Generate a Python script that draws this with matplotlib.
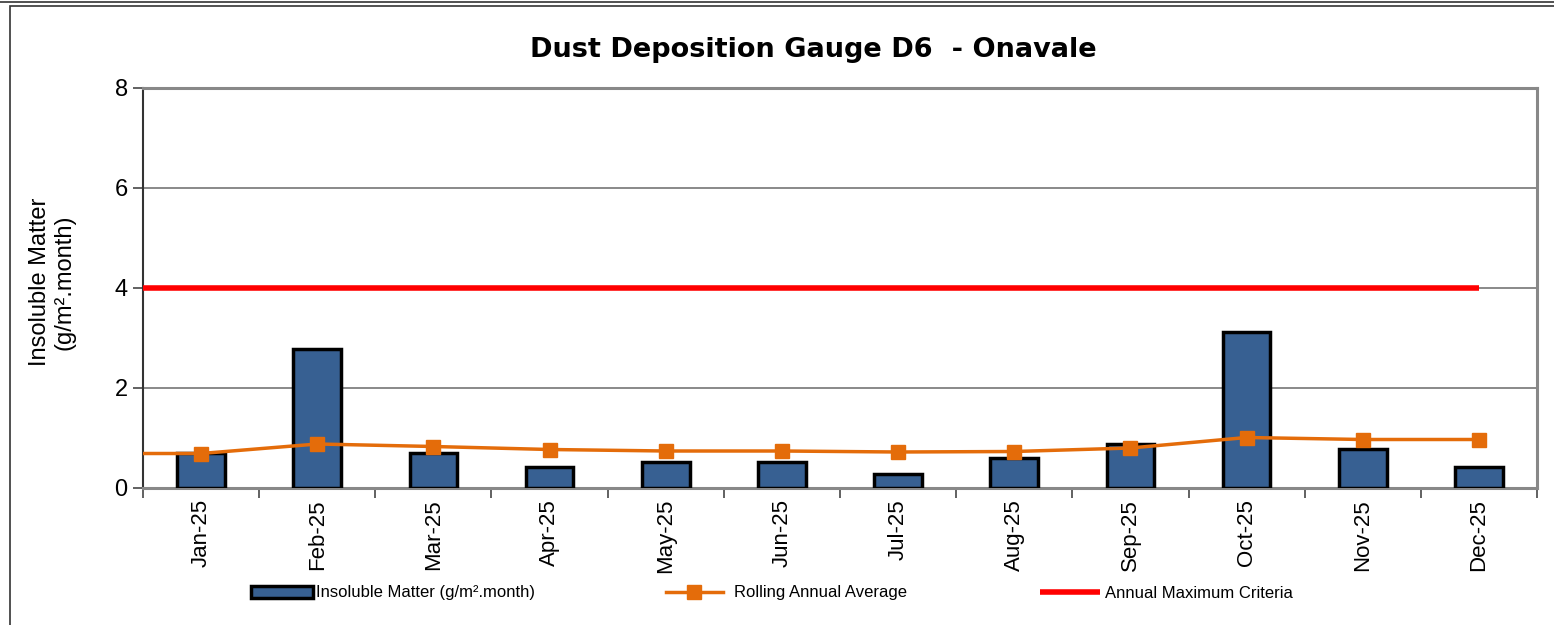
import matplotlib.pyplot as plt
from matplotlib.patches import Rectangle
from matplotlib.lines import Line2D

plt.rcParams['font.family'] = ['Liberation Sans', 'DejaVu Sans']

# data
months = ['Jan-25', 'Feb-25', 'Mar-25', 'Apr-25', 'May-25', 'Jun-25',
          'Jul-25', 'Aug-25', 'Sep-25', 'Oct-25', 'Nov-25', 'Dec-25']
insoluble = [0.71, 2.79, 0.71, 0.42, 0.52, 0.52, 0.28, 0.61, 0.89, 3.12, 0.79, 0.43]
rolling_avg = [0.69, 0.88, 0.83, 0.77, 0.74, 0.74, 0.72, 0.73, 0.80, 1.01, 0.97, 0.97]
criteria = 4

x = list(range(len(months)))

W, H = 1554, 625
fig = plt.figure(figsize=(15.54, 6.25), dpi=100)
ax = fig.add_axes([143/W, 1 - 488/H, (1537-143)/W, 400/H])

# outer frame like the source document
fig.add_artist(Line2D([0, 1], [1 - 1.5/H, 1 - 1.5/H], color='#333333', lw=1.2))
fig.add_artist(Rectangle((10/W, -0.1), 1.2, 1 - 5.5/H + 0.1, fill=False,
                         edgecolor='#333333', lw=1.2))

ax.bar(x, insoluble, width=0.41, color='#376092', edgecolor='black',
       linewidth=2.5, zorder=3, label='Insoluble Matter (g/m².month)')

# rolling average runs in from the left edge of the plot area
ax.plot([-0.5] + x, [rolling_avg[0]] + rolling_avg, color='#E46C0A', lw=2.5,
        marker='s', markersize=10, markevery=list(range(1, 13)), zorder=4,
        label='Rolling Annual Average')
ax.hlines(criteria, -0.5, x[-1], color='#FF0000', lw=4, zorder=4,
          label='Annual Maximum Criteria')

ax.set_xlim(-0.5, 11.5)
ax.set_ylim(0, 8)
ax.set_yticks([0, 2, 4, 6, 8])
ax.yaxis.grid(True, color='#808080', lw=1.3)
ax.set_axisbelow(True)

ax.set_xticks([i + 0.5 for i in range(-1, 12)])
ax.set_xticklabels([])
ax.set_xticks(x, minor=True)
ax.set_xticklabels(months, minor=True, rotation=90, fontsize=16)
ax.tick_params(axis='x', which='major', length=7, width=1.3, color='#555555', direction='out')
ax.tick_params(axis='x', which='minor', length=0, pad=8)
ax.tick_params(axis='y', length=7, width=1.3, color='#555555', labelsize=17, pad=4)

for s in ['top', 'right', 'bottom']:
    ax.spines[s].set_color('#888888')
    ax.spines[s].set_linewidth(2.2)
ax.spines['left'].set_color('#333333')
ax.spines['left'].set_linewidth(1.5)

fig.text(52/W, 1 - 282/H, 'Insoluble Matter\n(g/m².month)', rotation=90,
         ha='center', va='center', fontsize=17, linespacing=1.15)
fig.text(813/W, 1 - 50/H, 'Dust Deposition Gauge D6  - Onavale', ha='center',
         va='center', fontsize=19.5, fontweight='bold', family='DejaVu Sans')

handles, labels = ax.get_legend_handles_labels()
leg_y = 1 - 593/H
fig.legend([handles[2]], [labels[2]], loc='center left',
           bbox_to_anchor=(236/W, leg_y), frameon=False, fontsize=12,
           handlelength=3.7, handletextpad=0.2)
fig.legend([handles[0]], [labels[0]], loc='center left',
           bbox_to_anchor=(651/W, leg_y), frameon=False, fontsize=12,
           handlelength=3.4, handletextpad=0.7)
fig.legend([handles[1]], [labels[1]], loc='center left',
           bbox_to_anchor=(1025/W, leg_y), frameon=False, fontsize=12,
           handlelength=3.6, handletextpad=0.3)

fig.savefig('out.png', dpi=100)
